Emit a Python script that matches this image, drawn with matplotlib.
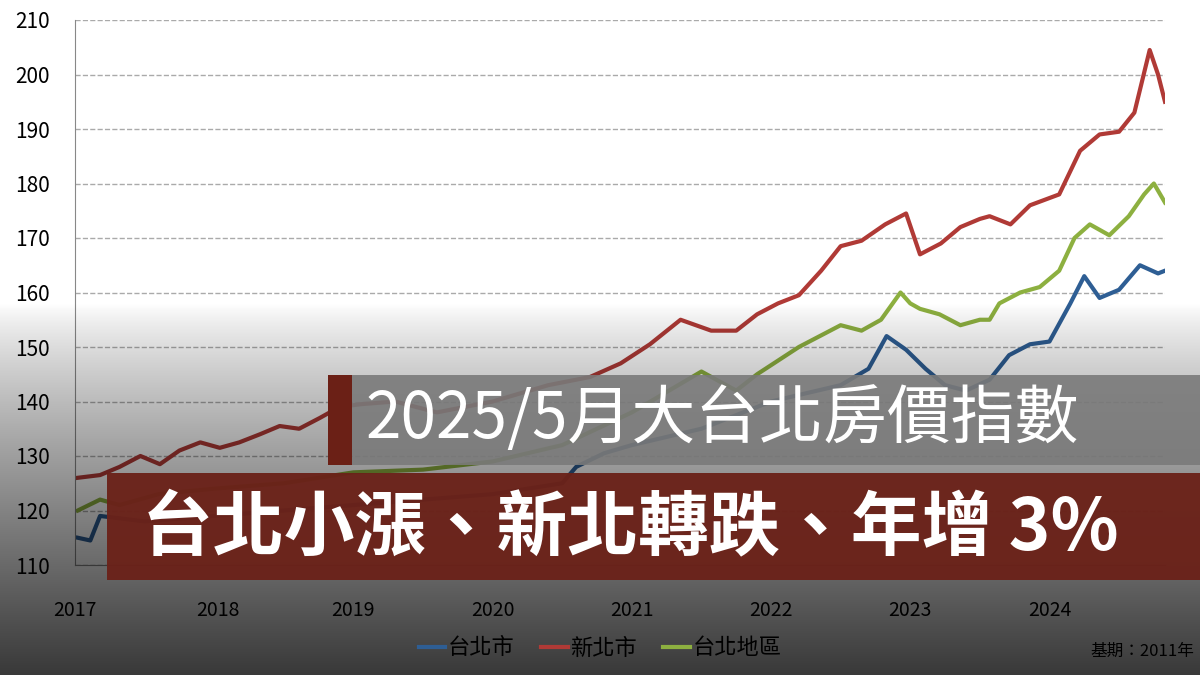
import numpy as np
import matplotlib.pyplot as plt
from matplotlib.patches import Rectangle

plt.rcParams['font.family'] = ['Noto Sans CJK TC', 'DejaVu Sans']

# x positions in years since 2017
red_x = [0.02, 0.18, 0.32, 0.47, 0.61, 0.75, 0.90, 1.04, 1.18, 1.33, 1.47, 1.61, 1.76, 1.90,
         2.05, 2.30, 2.60, 3.00, 3.40, 3.70, 3.92, 4.13, 4.35, 4.57, 4.75, 4.90, 5.05, 5.20,
         5.36, 5.50, 5.65, 5.82, 5.97, 6.07, 6.22, 6.36, 6.50, 6.57, 6.72, 6.86, 7.07, 7.22,
         7.36, 7.50, 7.61, 7.72, 7.78, 7.83]
red_y = [126, 126.5, 128, 130, 128.5, 131, 132.5, 131.5, 132.5, 134, 135.5, 135, 137, 139,
         139.5, 140, 138, 140, 143, 144.5, 147, 150.5, 155, 153, 153, 156, 158, 159.5,
         164, 168.5, 169.5, 172.5, 174.5, 167, 169, 172, 173.5, 174, 172.5, 176, 178, 186,
         189, 189.5, 193, 204.5, 200, 195]

green_x = [0.02, 0.18, 0.32, 0.60, 1.00, 1.50, 2.00, 2.50, 3.00, 3.50, 4.00, 4.50, 4.75,
           4.90, 5.20, 5.50, 5.65, 5.79, 5.93, 6.00, 6.07, 6.21, 6.36, 6.50, 6.57, 6.64,
           6.79, 6.93, 7.07, 7.18, 7.29, 7.43, 7.57, 7.68, 7.75, 7.83]
green_y = [120, 122, 121, 123, 124, 125, 127, 127.5, 129, 132, 138, 145.5, 142, 145,
           150, 154, 153, 155, 160, 158, 157, 156, 154, 155, 155, 158, 160, 161, 164, 170,
           172.5, 170.5, 174, 178, 180, 176.5]

blue_x = [0.02, 0.11, 0.18, 0.50, 1.00, 1.50, 2.00, 2.50, 3.00, 3.50, 3.60, 3.80, 4.00, 4.50,
          5.00, 5.50, 5.70, 5.83, 5.97, 6.11, 6.25, 6.40, 6.57, 6.71, 6.86, 7.00, 7.15, 7.25,
          7.36, 7.50, 7.65, 7.78, 7.83]
blue_y = [115, 114.5, 119, 118, 119, 120, 121, 122, 123, 125, 128, 130.5, 132, 135,
          140, 143, 146, 152, 149.5, 146, 143, 142, 144, 148.5, 150.5, 151, 158, 163,
          159, 160.5, 165, 163.5, 164]

years = ['2017', '2018', '2019', '2020', '2021', '2022', '2023', '2024']
year_pos = [0, 1.03, 2.0, 3.0, 4.0, 5.0, 6.0, 7.0]

fig = plt.figure(figsize=(12, 6.75), dpi=100)
ax = fig.add_axes([75 / 1200, 110 / 675, 1090 / 1200, 545 / 675])
ax.plot(blue_x, blue_y, color='#2e5e94', lw=3, label='台北市')
ax.plot(red_x, red_y, color='#b03a36', lw=3, label='新北市')
ax.plot(green_x, green_y, color='#8db040', lw=3, label='台北地區')
ax.set_xlim(0, 7.83)
ax.set_ylim(110, 210)
ax.set_yticks(range(110, 211, 10))
ax.set_xticks(year_pos)
ax.set_xticklabels(years, fontsize=14)
ax.tick_params(axis='y', labelsize=15, length=0, pad=18)
ax.tick_params(axis='x', length=0, pad=25)
ax.yaxis.grid(True, ls='--', color='#aaaaaa', lw=1)
for s in ['top', 'right']:
    ax.spines[s].set_visible(False)
ax.spines['left'].set_color('#888888')
ax.spines['bottom'].set_color('#888888')
ax.set_facecolor('none')

fig.legend(loc='center', bbox_to_anchor=(0.5, 0.04), ncol=3, frameon=False,
           handlelength=1.2, fontsize=16, columnspacing=1.2, handletextpad=0.1)
fig.text(0.995, 0.035, '基期：2011年', fontsize=12, ha='right', va='center')

# darkening gradient over lower part of the picture (row 0 = top)
ov = fig.add_axes([0, 0, 1, 1], zorder=5)
ov.axis('off')
t = np.linspace(0, 1, 675)
alpha = np.clip((t - 0.45) / 0.55, 0, 1) ** 0.8 * 0.78
img = np.zeros((675, 1, 4))
img[:, 0, 3] = alpha
ov.imshow(img, extent=[0, 1, 0, 1], aspect='auto')
ov.set_xlim(0, 1)
ov.set_ylim(0, 1)

# banners
bn = fig.add_axes([0, 0, 1, 1], zorder=10)
bn.set_xlim(0, 1200)
bn.set_ylim(675, 0)
bn.axis('off')
bn.add_patch(Rectangle((328, 375), 872, 90, color='#7a7a7a', alpha=0.9, lw=0))
bn.add_patch(Rectangle((328, 375), 24, 90, color='#6b2016', lw=0))
bn.text(366, 420, '2025/5月大台北房價指數', color='white', fontsize=46, va='center')
bn.add_patch(Rectangle((107, 473), 1093, 107, color='#6b2219', alpha=0.96, lw=0))
bn.text(142, 528, '台北小漲、新北轉跌、年增 3%', color='white', fontsize=51,
        fontweight='bold', va='center')

fig.savefig('out.png', dpi=100, facecolor='white')
